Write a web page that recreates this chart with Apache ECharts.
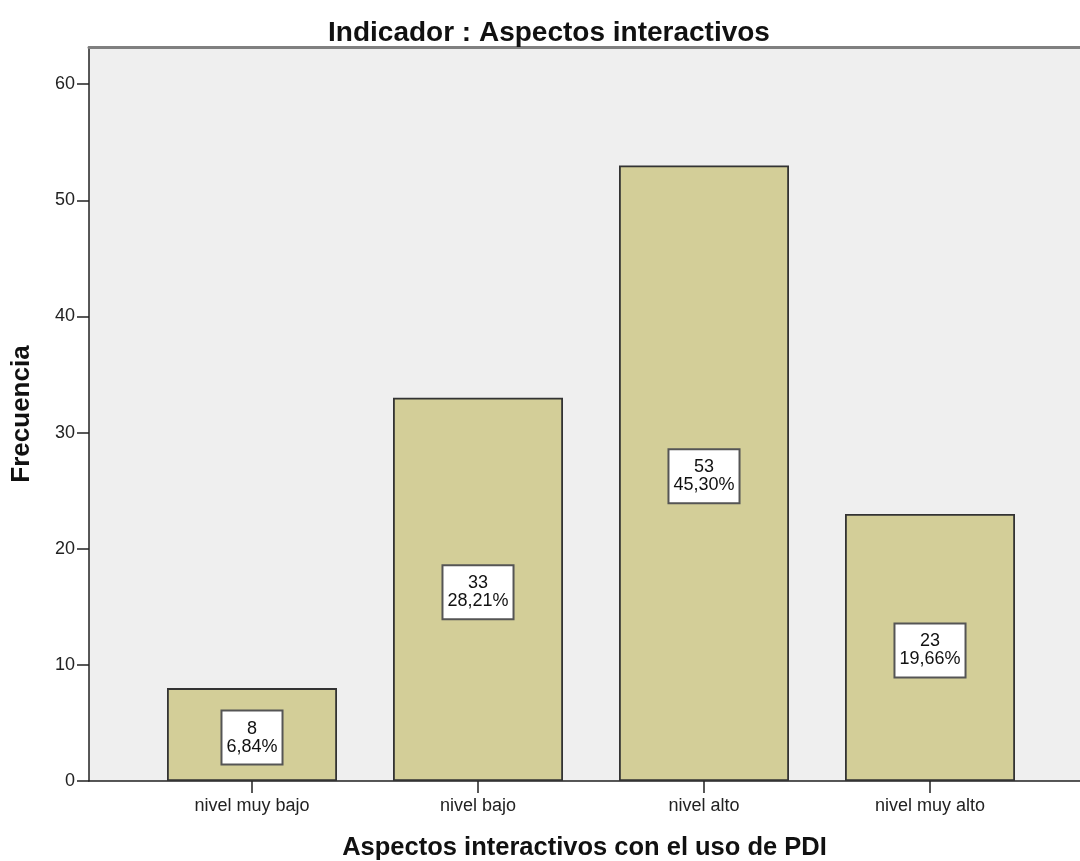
<!DOCTYPE html>
<html>
<head>
<meta charset="utf-8">
<script src="https://cdn.jsdelivr.net/npm/echarts@6/dist/echarts.min.js"></script>
<style>
  html, body { margin: 0; padding: 0; background: #fff; }
  #chart { width: 1080px; height: 861px; }
</style>
</head>
<body>
<div id="chart"></div>
<script>
// datos
const categories = ['nivel muy bajo', 'nivel bajo', 'nivel alto', 'nivel muy alto'];
const frecuencias = [8, 33, 53, 23];
const porcentajes = ['6,84%', '28,21%', '45,30%', '19,66%'];
const yTicks = [0, 10, 20, 30, 40, 50, 60];

const FONT = 'Liberation Sans, Arial, sans-serif';
const yMax = 63.2;

let myChart = echarts.init(document.getElementById('chart'));
let option = {
    animation: false,
    title: {
        text: 'Indicador : Aspectos interactivos',
        left: 544,
        top: 14,
        textAlign: 'center',
        textStyle: { fontFamily: FONT, fontSize: 28, fontWeight: 'bold', color: '#111' }
    },
    grid: [
        // fondo y ejes
        { left: 89, right: 0, top: 47, bottom: 80, backgroundColor: '#efefef', show: true, borderWidth: 0, outerBoundsMode: 'none' },
        // barras
        { left: 139, right: 37, top: 47, bottom: 80, outerBoundsMode: 'none' }
    ],
    xAxis: [
        {
            gridIndex: 0,
            type: 'value',
            min: 0, max: 1,
            axisLine: { show: true, lineStyle: { color: '#222', width: 1.5 } },
            axisTick: { show: false },
            axisLabel: { show: false },
            splitLine: { show: false },
            name: 'Aspectos interactivos con el uso de PDI',
            nameLocation: 'middle',
            nameGap: 54,
            nameTextStyle: { fontFamily: FONT, fontSize: 25.5, fontWeight: 'bold', color: '#111' }
        },
        {
            gridIndex: 1,
            type: 'category',
            data: categories,
            axisLine: { show: false },
            axisTick: { show: true, alignWithLabel: true, length: 12, lineStyle: { color: '#222', width: 1.5 } },
            axisLabel: { fontFamily: FONT, fontSize: 18, color: '#222', margin: 16 },
            splitLine: { show: false }
        },
        // borde superior
        {
            gridIndex: 0,
            type: 'value',
            position: 'top',
            min: 0, max: 1,
            axisLine: { show: true, lineStyle: { color: '#808080', width: 3 } },
            axisTick: { show: false },
            axisLabel: { show: false },
            splitLine: { show: false }
        }
    ],
    yAxis: [
        {
            gridIndex: 0,
            type: 'value',
            min: 0, max: yMax,
            interval: 10,
            axisLine: { show: true, lineStyle: { color: '#222', width: 1.5 } },
            axisTick: { show: true, length: 12, lineStyle: { color: '#222', width: 1.5 } },
            axisLabel: {
                fontFamily: FONT, fontSize: 18, color: '#222', margin: 14,
                showMaxLabel: false,
                formatter: v => yTicks.includes(v) ? String(v) : ''
            },
            splitLine: { show: false },
            name: 'Frecuencia',
            nameLocation: 'middle',
            nameGap: 54,
            nameRotate: 90,
            nameTextStyle: { fontFamily: FONT, fontSize: 26, fontWeight: 'bold', color: '#111' }
        },
        {
            gridIndex: 1,
            type: 'value',
            min: 0, max: yMax,
            show: false
        }
    ],
    series: [
        {
            name: 'Frecuencia',
            type: 'bar',
            xAxisIndex: 1,
            yAxisIndex: 1,
            barWidth: 170,
            data: frecuencias,
            itemStyle: { color: '#d3ce98', borderColor: '#333', borderWidth: 1.8 },
            label: {
                show: true,
                position: 'inside',
                offset: [0, 3],
                formatter: p => p.value + '\n' + porcentajes[p.dataIndex],
                fontFamily: FONT,
                fontSize: 18,
                lineHeight: 18,
                color: '#111',
                backgroundColor: '#fff',
                borderColor: '#555',
                borderWidth: 2,
                padding: [8, 4, 8, 4]
            }
        }
    ]
};
myChart.setOption(option);
</script>
</body>
</html>
